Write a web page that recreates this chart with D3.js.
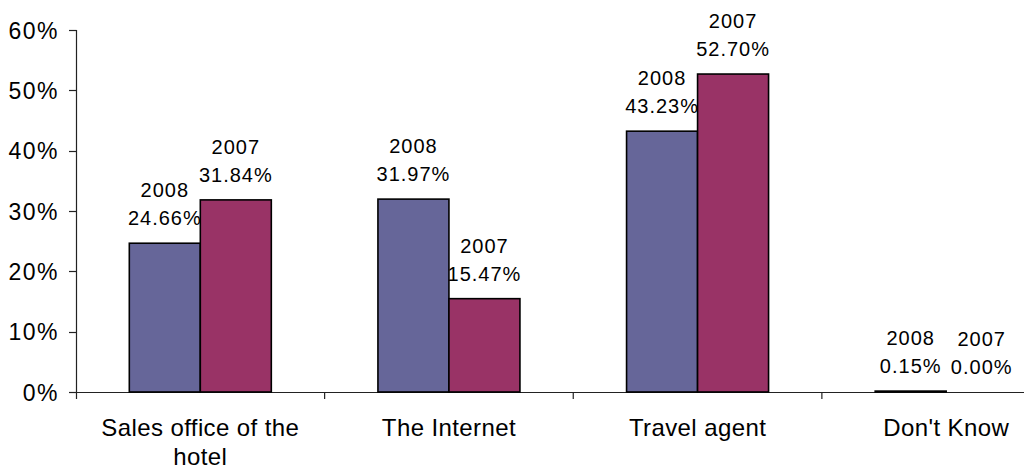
<!DOCTYPE html>
<html>
<head>
<meta charset="utf-8">
<script src="https://cdn.jsdelivr.net/npm/d3@7"></script>
<style>
  html, body { margin: 0; padding: 0; background: #fff; }
  svg { display: block; font-family: Arial, "Liberation Sans", Helvetica, sans-serif; }
</style>
</head>
<body>
<svg id="chart" width="1024" height="473"></svg>
<script>
const categories = [["Sales office of the", "hotel"], ["The Internet"], ["Travel agent"], ["Don't Know"]];
const series = ["2008", "2007"];
const values2008 = [24.66, 31.97, 43.23, 0.15];
const values2007 = [31.84, 15.47, 52.70, 0.00];
const yTicks = [0, 10, 20, 30, 40, 50, 60];
const colors = ["#666699", "#993366"];

const svg = d3.select("#chart");
const catKeys = categories.map(c => c.join(" "));

const x0 = d3.scaleBand().domain(catKeys).range([76, 1070.5]).padding(0);
const bw = x0.bandwidth();
const x1 = d3.scaleBand().domain(series).range([bw / 2 - 71, bw / 2 + 71]).padding(0);
const y = d3.scaleLinear().domain([0, 60]).range([392, 30]);

const valuesBySeries = { "2008": values2008, "2007": values2007 };

// y axis
const yAxis = svg.append("g");
yAxis.append("line")
  .attr("x1", 76.5).attr("x2", 76.5)
  .attr("y1", y(60)).attr("y2", y(0) + 7)
  .attr("stroke", "#222").attr("stroke-width", 1.2);
yAxis.selectAll("line.tick").data(yTicks).enter().append("line")
  .attr("x1", 69).attr("x2", 76.5)
  .attr("y1", d => Math.round(y(d)) + 0.5).attr("y2", d => Math.round(y(d)) + 0.5)
  .attr("stroke", "#222").attr("stroke-width", 1.2);
yAxis.selectAll("text").data(yTicks).enter().append("text")
  .attr("x", 59).attr("y", d => y(d) + 8.5)
  .attr("text-anchor", "end")
  .attr("font-size", 23).attr("letter-spacing", "1.5px")
  .attr("fill", "#000")
  .text(d => d + "%");

// x axis
svg.append("line")
  .attr("x1", 76).attr("x2", 1024)
  .attr("y1", Math.round(y(0)) + 0.5).attr("y2", Math.round(y(0)) + 0.5)
  .attr("stroke", "#222").attr("stroke-width", 1.2);
svg.selectAll("line.xtick").data(catKeys.slice(1)).enter().append("line")
  .attr("x1", d => x0(d)).attr("x2", d => x0(d))
  .attr("y1", y(0)).attr("y2", y(0) + 7)
  .attr("stroke", "#222").attr("stroke-width", 1.2);

// category labels
const catLabels = svg.selectAll("text.cat").data(categories).enter().append("text")
  .attr("text-anchor", "middle")
  .attr("font-size", 24).attr("letter-spacing", "0.4px")
  .attr("fill", "#000");
catLabels.each(function(lines, i) {
  const cx = x0(catKeys[i]) + bw / 2;
  d3.select(this).selectAll("tspan").data(lines).enter().append("tspan")
    .attr("x", cx).attr("y", (d, j) => 436 + j * 29)
    .text(d => d);
});

// bars
const groups = svg.selectAll("g.cat").data(catKeys).enter().append("g")
  .attr("transform", d => `translate(${x0(d)},0)`);

series.forEach((s, si) => {
  groups.append("rect")
    .attr("x", x1(s))
    .attr("y", (d, i) => y(valuesBySeries[s][i]))
    .attr("width", x1.bandwidth())
    .attr("height", (d, i) => y(0) - y(valuesBySeries[s][i]))
    .attr("fill", colors[si])
    .attr("stroke", "#000").attr("stroke-width", 1.6);

  groups.each(function(d, i) {
    const v = valuesBySeries[s][i];
    const cx = x1(s) + x1.bandwidth() / 2;
    const top = y(v);
    const t = d3.select(this).append("text")
      .attr("text-anchor", "middle")
      .attr("font-size", 20).attr("letter-spacing", "1px")
      .attr("fill", "#000");
    t.append("tspan").attr("x", cx).attr("y", top - 46).text(s);
    t.append("tspan").attr("x", cx).attr("y", top - 18).text(v.toFixed(2) + "%");
  });
});
</script>
</body>
</html>
